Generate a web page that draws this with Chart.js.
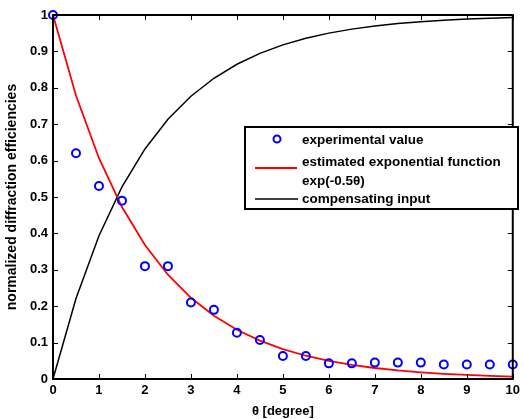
<!DOCTYPE html>
<html>
<head>
<meta charset="utf-8">
<script src="https://cdn.jsdelivr.net/npm/chart.js@4.4.1/dist/chart.umd.min.js"></script>
<style>
  html, body { margin: 0; padding: 0; background: #fff; }
  #wrap { width: 524px; height: 419px; }
</style>
</head>
<body>
<div id="wrap"><canvas id="effChart" width="524" height="419"></canvas></div>
<script>
// angle in degrees
const theta = [0, 0.5, 1, 1.5, 2, 2.5, 3, 3.5, 4, 4.5, 5, 5.5, 6, 6.5, 7, 7.5, 8, 8.5, 9, 9.5, 10];
// measured normalized efficiencies
const experimental = [1.0, 0.62, 0.53, 0.49, 0.31, 0.31, 0.21, 0.19, 0.127, 0.107, 0.063, 0.063,
                      0.043, 0.043, 0.045, 0.045, 0.045, 0.04, 0.04, 0.04, 0.04];
// fitted curve exp(-0.5θ)
const estimated = [1.0, 0.7788, 0.6065, 0.4724, 0.3679, 0.2865, 0.2231, 0.1738, 0.1353, 0.1054, 0.0821,
                   0.0639, 0.0498, 0.0388, 0.0302, 0.0235, 0.0183, 0.0143, 0.0111, 0.0087, 0.0067];
// compensating input 1 - exp(-0.5θ)
const compensating = [0, 0.2212, 0.3935, 0.5276, 0.6321, 0.7135, 0.7769, 0.8262, 0.8647, 0.8946, 0.9179,
                      0.9361, 0.9502, 0.9612, 0.9698, 0.9765, 0.9817, 0.9857, 0.9889, 0.9913, 0.9933];
const xTicks = [0, 1, 2, 3, 4, 5, 6, 7, 8, 9, 10];
const yTicks = [0, 0.1, 0.2, 0.3, 0.4, 0.5, 0.6, 0.7, 0.8, 0.9, 1];

const FONT = "'Liberation Sans', Arial, sans-serif";

function pts(ys) {
  return theta.map((t, i) => ({ x: t, y: ys[i] }));
}

// box around the axes with inward ticks on all four sides
const frame = {
  id: 'frame',
  afterDatasetsDraw(chart) {
    const { ctx, chartArea: a, scales } = chart;
    ctx.save();
    ctx.strokeStyle = '#000';
    ctx.lineWidth = 1;
    const tl = 5;
    ctx.beginPath();
    xTicks.forEach(v => {
      const x = Math.round(scales.x.getPixelForValue(v)) + 0.5;
      ctx.moveTo(x, a.bottom); ctx.lineTo(x, a.bottom - tl);
      ctx.moveTo(x, a.top); ctx.lineTo(x, a.top + tl);
    });
    yTicks.forEach(v => {
      const y = Math.round(scales.y.getPixelForValue(v)) + 0.5;
      ctx.moveTo(a.left, y); ctx.lineTo(a.left + tl, y);
      ctx.moveTo(a.right, y); ctx.lineTo(a.right - tl, y);
    });
    ctx.stroke();
    ctx.lineWidth = 2;
    ctx.strokeRect(a.left, a.top, a.right - a.left, a.bottom - a.top);
    ctx.restore();
  }
};

// legend box inside the plot, upper right
const legendBox = {
  id: 'legendBox',
  afterDraw(chart) {
    const { ctx } = chart;
    const x0 = 245, y0 = 127, w = 273, h = 82;
    ctx.save();
    ctx.fillStyle = '#fff';
    ctx.fillRect(x0, y0, w, h);
    ctx.strokeStyle = '#000';
    ctx.lineWidth = 2;
    ctx.strokeRect(x0, y0, w, h);

    ctx.strokeStyle = '#0000ff';
    ctx.lineWidth = 2;
    ctx.beginPath();
    ctx.arc(277, 139, 3.5, 0, Math.PI * 2);
    ctx.stroke();

    ctx.strokeStyle = '#ff0000';
    ctx.lineWidth = 1.8;
    ctx.beginPath(); ctx.moveTo(255, 168); ctx.lineTo(297, 168); ctx.stroke();
    ctx.strokeStyle = '#000';
    ctx.lineWidth = 1.5;
    ctx.beginPath(); ctx.moveTo(255, 199); ctx.lineTo(298, 199); ctx.stroke();

    ctx.fillStyle = '#000';
    ctx.font = 'bold 13.5px ' + FONT;
    ctx.textBaseline = 'middle';
    ctx.textAlign = 'left';
    ctx.fillText('experimental value', 302, 140);
    ctx.fillText('estimated exponential function', 302, 162);
    ctx.fillText('exp(-0.5θ)', 302, 181);
    ctx.fillText('compensating input', 302, 199);
    ctx.restore();
  }
};

new Chart(document.getElementById('effChart'), {
  type: 'line',
  data: {
    datasets: [
      {
        label: 'experimental value',
        data: pts(experimental),
        showLine: false,
        pointStyle: 'circle',
        pointRadius: 4,
        pointBorderWidth: 2,
        pointBorderColor: '#0000ff',
        pointBackgroundColor: 'rgba(0,0,0,0)',
        clip: false,
        order: 0
      },
      {
        label: 'estimated exponential function exp(-0.5θ)',
        data: pts(estimated),
        borderColor: '#ff0000',
        borderWidth: 1.8,
        pointRadius: 0,
        tension: 0,
        order: 1
      },
      {
        label: 'compensating input',
        data: pts(compensating),
        borderColor: '#000000',
        borderWidth: 1.5,
        pointRadius: 0,
        tension: 0,
        order: 2
      }
    ]
  },
  options: {
    responsive: false,
    animation: false,
    layout: { padding: { left: 0, right: 7, top: 15, bottom: 0 } },
    plugins: {
      legend: { display: false },
      tooltip: { enabled: false }
    },
    scales: {
      x: {
        type: 'linear',
        min: 0,
        max: 10,
        afterFit(scale) { scale.height = 40; },
        afterBuildTicks(scale) { scale.ticks = xTicks.map(v => ({ value: v })); },
        grid: { display: false, drawTicks: false },
        border: { display: false },
        ticks: {
          color: '#000',
          padding: 4,
          maxRotation: 0,
          font: { family: FONT, size: 13, weight: 'bold' }
        },
        title: {
          display: true,
          text: 'θ [degree]',
          color: '#000',
          padding: { top: 0, bottom: 0 },
          font: { family: FONT, size: 13, weight: 'bold' }
        }
      },
      y: {
        type: 'linear',
        min: 0,
        max: 1,
        afterFit(scale) { scale.width = 53; },
        afterBuildTicks(scale) { scale.ticks = yTicks.map(v => ({ value: v })); },
        grid: { display: false, drawTicks: false },
        border: { display: false },
        ticks: {
          color: '#000',
          padding: 5,
          font: { family: FONT, size: 13, weight: 'bold' },
          callback: v => (v === 0 || v === 1) ? String(v) : v.toFixed(1)
        },
        title: {
          display: true,
          text: 'normalized diffraction efficiencies',
          color: '#000',
          padding: { top: 4, bottom: 4 },
          font: { family: FONT, size: 14, weight: 'bold' }
        }
      }
    }
  },
  plugins: [frame, legendBox]
});
</script>
</body>
</html>
